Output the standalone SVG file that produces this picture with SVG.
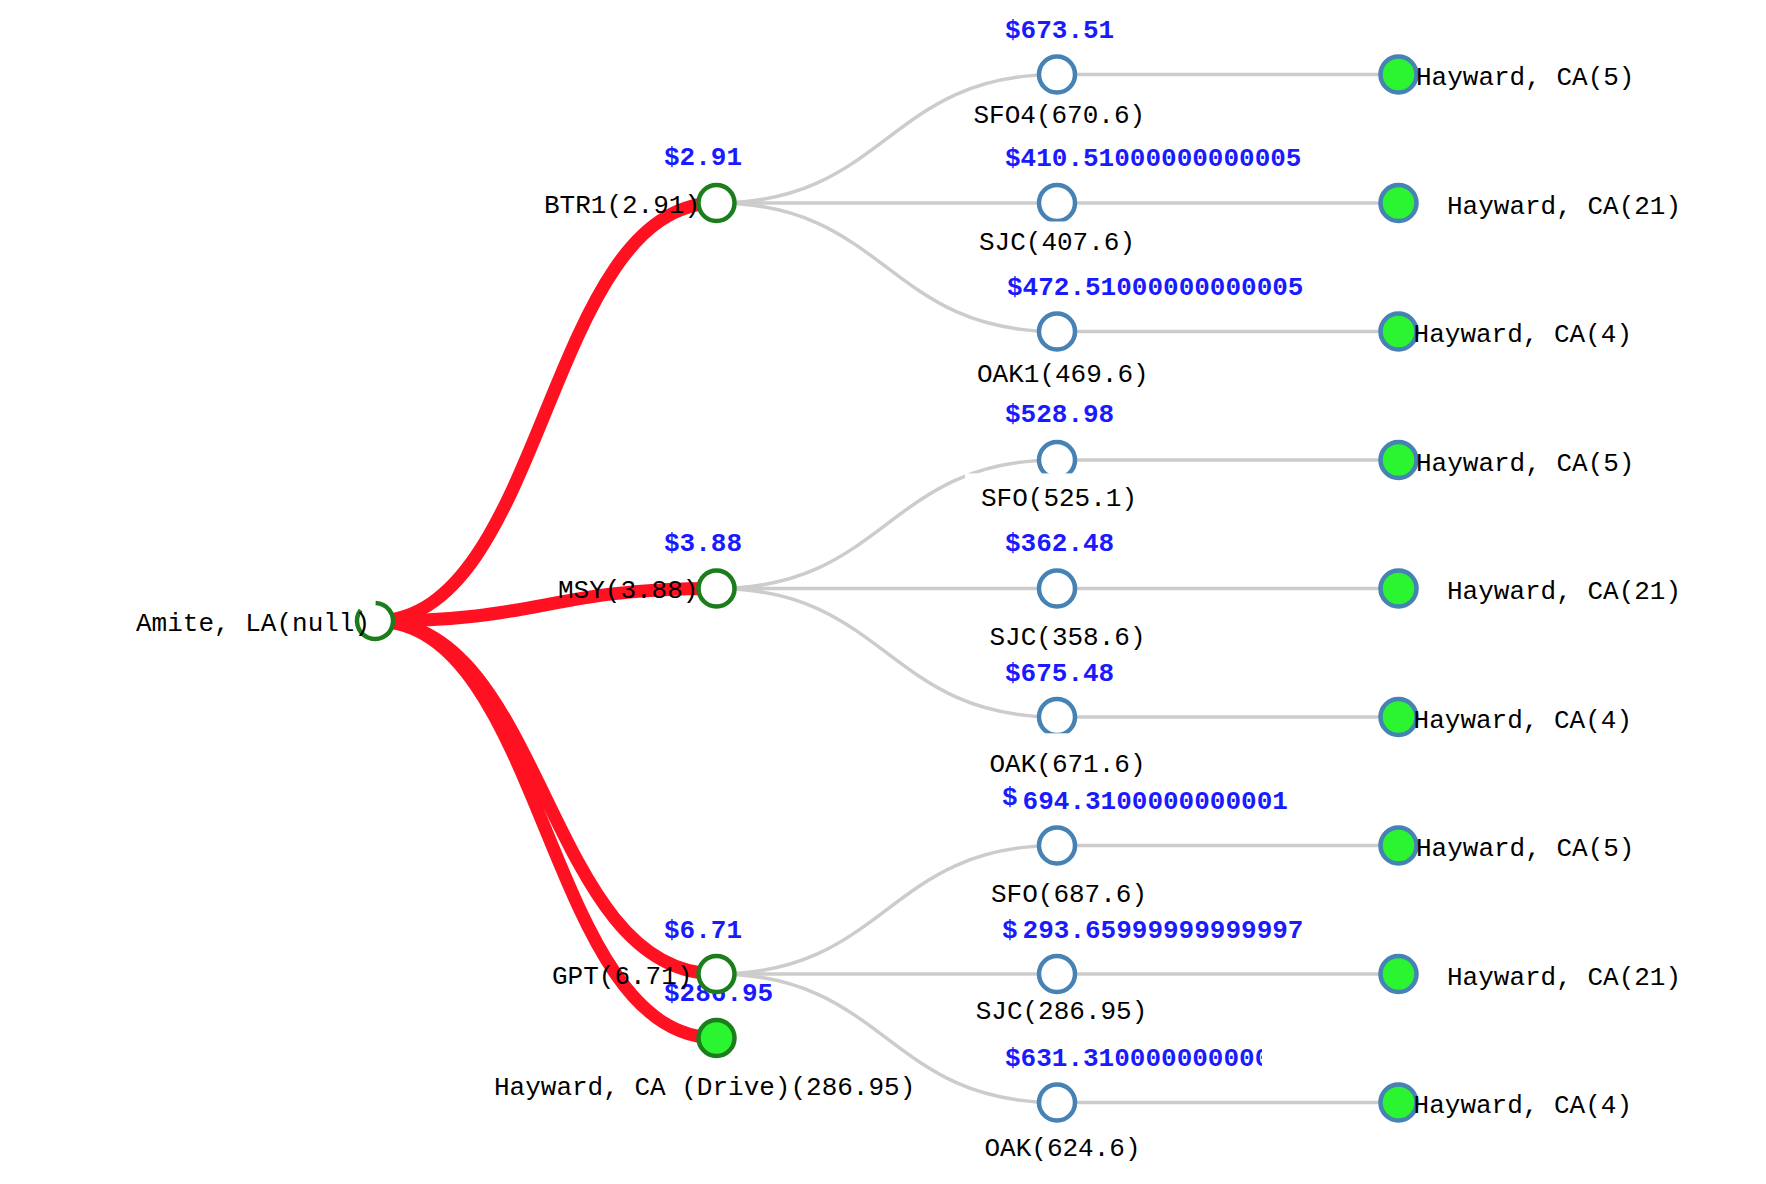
<svg xmlns="http://www.w3.org/2000/svg" width="1766" height="1184" viewBox="0 0 1766 1184">
<style>
.lbl{font-family:"Liberation Mono","DejaVu Sans Mono",monospace;font-size:26px;fill:#000}
.cost{font-family:"Liberation Mono","DejaVu Sans Mono",monospace;font-weight:bold;font-size:26px;fill:#1a1aff}
.link{fill:none;stroke:#ccc;stroke-width:3.5}
.hl{fill:none;stroke:#ff1122;stroke-width:13}
.mid{fill:#fff;stroke:#4682b4;stroke-width:4.5}
.leaf{fill:#2af530;stroke:#4682b4;stroke-width:4.5}
.onpath{fill:#fff;stroke:#1b7d1b;stroke-width:4.5}
.dest{fill:#2af530;stroke:#1b7d1b;stroke-width:4.5}
.mask{fill:#fff}
</style>
<defs>
<clipPath id="clip631"><rect x="990" y="1030" width="272" height="50"/></clipPath>
</defs>
<rect width="1766" height="1184" fill="#fff"/>
<g id="connectors">
<path class="link" d="M716.5,203 C886.5,203 886.5,74.5 1057,74.5"/>
<path class="link" d="M716.5,203 C886.5,203 886.5,203 1057,203"/>
<path class="link" d="M716.5,203 C886.5,203 886.5,331.5 1057,331.5"/>
<path class="link" d="M716.5,588.5 C886.5,588.5 886.5,460 1057,460"/>
<path class="link" d="M716.5,588.5 C886.5,588.5 886.5,588.5 1057,588.5"/>
<path class="link" d="M716.5,588.5 C886.5,588.5 886.5,717 1057,717"/>
<path class="link" d="M716.5,974 C886.5,974 886.5,845.5 1057,845.5"/>
<path class="link" d="M716.5,974 C886.5,974 886.5,974 1057,974"/>
<path class="link" d="M716.5,974 C886.5,974 886.5,1102.5 1057,1102.5"/>
<path class="link" d="M1057,74.5 L1398.5,74.5"/>
<path class="link" d="M1057,203 L1398.5,203"/>
<path class="link" d="M1057,331.5 L1398.5,331.5"/>
<path class="link" d="M1057,460 L1398.5,460"/>
<path class="link" d="M1057,588.5 L1398.5,588.5"/>
<path class="link" d="M1057,717 L1398.5,717"/>
<path class="link" d="M1057,845.5 L1398.5,845.5"/>
<path class="link" d="M1057,974 L1398.5,974"/>
<path class="link" d="M1057,1102.5 L1398.5,1102.5"/>
<path class="hl" d="M375,621 C545.5,621 545.5,203 716.5,203"/>
<path class="hl" d="M375,621 C545.5,621 545.5,588.5 716.5,588.5"/>
<path class="hl" d="M375,621 C545.5,621 545.5,974 716.5,974"/>
<path class="hl" d="M375,621 C545.5,621 545.5,1038 716.5,1038"/>
</g>
<g id="node-amite">
<circle cx="375" cy="621" r="18" fill="#fff"/>
<path d="M375.63,603.01 A18,18 0 1 1 360.63,610.17" fill="none" stroke="#1b7d1b" stroke-width="4.5"/>
<text class="lbl" x="136" y="631">Amite, LA(null)</text>
</g>
<g id="node-btr1">
<circle class="onpath" cx="716.5" cy="203" r="18"/>
<text class="cost" x="664" y="165">$2.91</text>
<text class="lbl" x="544" y="212.5">BTR1(2.91)</text>
</g>
<g id="node-msy">
<circle class="onpath" cx="716.5" cy="588.5" r="18"/>
<text class="cost" x="664" y="550.5">$3.88</text>
<text class="lbl" x="558" y="597.5">MSY(3.88)</text>
</g>
<g id="node-drive">
<circle class="dest" cx="716.5" cy="1038" r="18"/>
<text class="cost" x="664" y="1001">$286.95</text>
<text class="lbl" x="494" y="1095">Hayward, CA (Drive)(286.95)</text>
</g>
<g id="node-gpt">
<circle class="onpath" cx="716.5" cy="974" r="18"/>
<text class="cost" x="664" y="937.5">$6.71</text>
<text class="lbl" x="552" y="984">GPT(6.71)</text>
</g>
<g id="node-sfo4">
<circle class="mid" cx="1057" cy="74.5" r="18"/>
<text class="cost" x="1005" y="38">$673.51</text>
<text class="lbl" x="973.5" y="123">SFO4(670.6)</text>
</g>
<g id="node-sjc1">
<circle class="mid" cx="1057" cy="203" r="18"/>
<rect class="mask" x="1030" y="221.5" width="60" height="8"/>
<text class="cost" x="1005" y="166">$410.51000000000005</text>
<text class="lbl" x="979" y="249.5">SJC(407.6)</text>
</g>
<g id="node-oak1">
<circle class="mid" cx="1057" cy="331.5" r="18"/>
<text class="cost" x="1007" y="295">$472.51000000000005</text>
<text class="lbl" x="977" y="382">OAK1(469.6)</text>
</g>
<g id="node-sfo2">
<circle class="mid" cx="1057" cy="460" r="18"/>
<rect class="mask" x="965" y="473.4" width="125" height="11"/>
<text class="cost" x="1005" y="422">$528.98</text>
<text class="lbl" x="981" y="506">SFO(525.1)</text>
</g>
<g id="node-sjc2">
<circle class="mid" cx="1057" cy="588.5" r="18"/>
<text class="cost" x="1005" y="551">$362.48</text>
<text class="lbl" x="989.5" y="645">SJC(358.6)</text>
</g>
<g id="node-oak2">
<circle class="mid" cx="1057" cy="717" r="18"/>
<rect class="mask" x="1030" y="733.3" width="60" height="8"/>
<text class="cost" x="1005" y="680.5">$675.48</text>
<text class="lbl" x="989.5" y="772">OAK(671.6)</text>
</g>
<g id="node-sfo3">
<circle class="mid" cx="1057" cy="845.5" r="18"/>
<text class="cost" x="1002" y="805">$<tspan x="1022.6" y="809">694.3100000000001</tspan></text>
<text class="lbl" x="991" y="902">SFO(687.6)</text>
</g>
<g id="node-sjc3">
<circle class="mid" cx="1057" cy="974" r="18"/>
<text class="cost" x="1002" y="938">$<tspan x="1022.6">293.65999999999997</tspan></text>
<text class="lbl" x="975.7" y="1019">SJC(286.95)</text>
</g>
<g id="node-oak3">
<circle class="mid" cx="1057" cy="1102.5" r="18"/>
<text class="cost" x="1005" y="1066" clip-path="url(#clip631)">$631.310000000000</text>
<text class="lbl" x="984.5" y="1156">OAK(624.6)</text>
</g>
<g id="node-leaf1">
<circle class="leaf" cx="1398.5" cy="74.5" r="18"/>
<text class="lbl" x="1416" y="85">Hayward, CA(5)</text>
</g>
<g id="node-leaf2">
<circle class="leaf" cx="1398.5" cy="203" r="18"/>
<text class="lbl" x="1447" y="213.5">Hayward, CA(21)</text>
</g>
<g id="node-leaf3">
<circle class="leaf" cx="1398.5" cy="331.5" r="18"/>
<text class="lbl" x="1413.6" y="342">Hayward, CA(4)</text>
</g>
<g id="node-leaf4">
<circle class="leaf" cx="1398.5" cy="460" r="18"/>
<text class="lbl" x="1416" y="470.5">Hayward, CA(5)</text>
</g>
<g id="node-leaf5">
<circle class="leaf" cx="1398.5" cy="588.5" r="18"/>
<text class="lbl" x="1447" y="599">Hayward, CA(21)</text>
</g>
<g id="node-leaf6">
<circle class="leaf" cx="1398.5" cy="717" r="18"/>
<text class="lbl" x="1413.6" y="727.5">Hayward, CA(4)</text>
</g>
<g id="node-leaf7">
<circle class="leaf" cx="1398.5" cy="845.5" r="18"/>
<text class="lbl" x="1416" y="856">Hayward, CA(5)</text>
</g>
<g id="node-leaf8">
<circle class="leaf" cx="1398.5" cy="974" r="18"/>
<text class="lbl" x="1447" y="984.5">Hayward, CA(21)</text>
</g>
<g id="node-leaf9">
<circle class="leaf" cx="1398.5" cy="1102.5" r="18"/>
<text class="lbl" x="1413.6" y="1113">Hayward, CA(4)</text>
</g>
</svg>
